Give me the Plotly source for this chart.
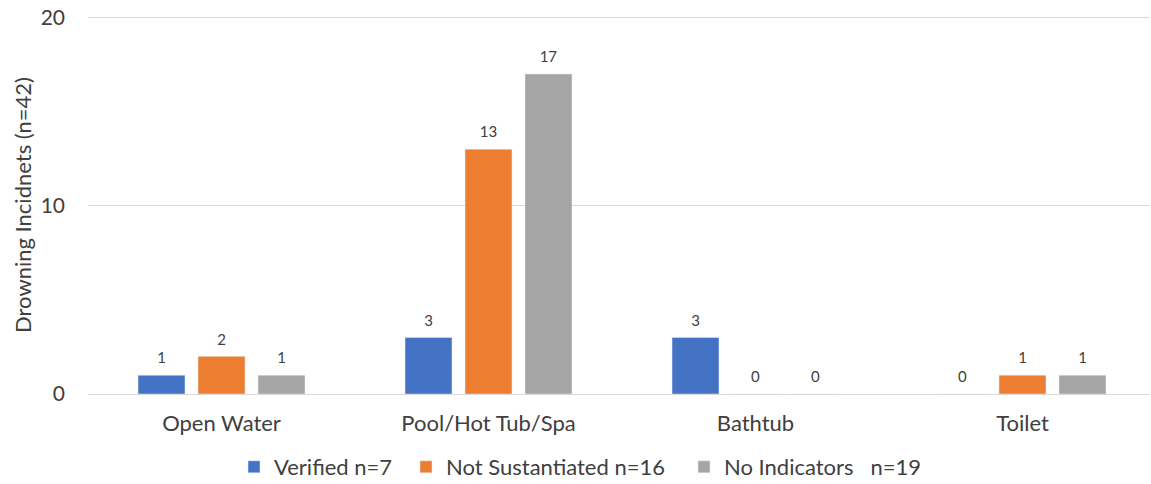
import plotly.graph_objects as go

categories = ["Open Water", "Pool/Hot Tub/Spa", "Bathtub", "Toilet"]
verified = [1, 3, 3, 0]
not_sustantiated = [2, 13, 0, 1]
no_indicators = [1, 17, 0, 1]
series_names = ["Verified n=7", "Not Sustantiated n=16", "No Indicators   n=19"]
colors = ["#4472C4", "#ED7D31", "#A5A5A5"]
y_ticks = [0, 10, 20]

W, H = 1151, 484
L, T = 88, 16
R = W - 1150
B = H - 394
legend_ids = ["legend", "legend2", "legend3"]
legend_text_x = [273, 445, 723]  # px where each legend label starts
legend_y = 467

fig = go.Figure()
for name, vals, col, lid in zip(series_names, [verified, not_sustantiated, no_indicators], colors, legend_ids):
    fig.add_trace(go.Bar(
        x=list(range(len(categories))), y=vals, name=name, marker_color=col,
        text=[f"<span style='font-size:15px'>{v}</span><br>&nbsp;" for v in vals],
        textposition="outside", constraintext="none",
        textfont=dict(size=6, color="#404040"), cliponaxis=False,
        legend=lid,
    ))

leg_common = dict(orientation="h", xref="container", yref="container", yanchor="middle",
                  xanchor="left", font=dict(size=22, color="#404040"), itemwidth=30,
                  bgcolor="rgba(0,0,0,0)")
legs = {}
for lid, tx in zip(legend_ids, legend_text_x):
    legs[lid] = dict(x=(tx - 39) / W, y=1 - legend_y / H, **leg_common)

fig.update_layout(
    width=W, height=H,
    margin=dict(l=L, r=R, t=T, b=B, autoexpand=False),
    plot_bgcolor="white", paper_bgcolor="white",
    font=dict(family="Lato, Liberation Sans, sans-serif", color="#404040"),
    barmode="group", bargap=0.326, bargroupgap=0.217,
    showlegend=True,
    **legs,
)
span = (1150 - 88) / 267.0
fig.update_xaxes(tickvals=list(range(len(categories))), ticktext=categories,
                 range=[-0.5, -0.5 + span],
                 tickfont=dict(size=22, color="#404040"), showline=False, ticks="",
                 showgrid=False, zeroline=False, automargin=False, ticklabelstandoff=14)
fig.update_yaxes(range=[0, 20.08], tickvals=y_ticks, tickfont=dict(size=21, color="#404040"),
                 showgrid=True, gridcolor="#D9D9D9", gridwidth=1.3, zeroline=True,
                 zerolinecolor="#D9D9D9", zerolinewidth=1.3, ticklabeloverflow="allow",
                 title=dict(text="Drowning Incidnets (n=42)", font=dict(size=22, color="#404040"), standoff=2),
                 ticklabelstandoff=22, automargin=False)

fig.write_html("out.html", config={"displayModeBar": False},
               post_script="document.body.style.margin='0';")
